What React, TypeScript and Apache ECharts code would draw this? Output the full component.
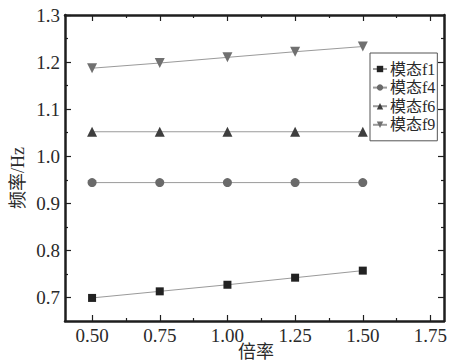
import React, { useEffect, useRef } from "react";
import * as echarts from "echarts";

const xValues = [0.5, 0.75, 1.0, 1.25, 1.5];
const f1 = [0.699, 0.713, 0.727, 0.742, 0.757];
const f4 = [0.944, 0.944, 0.944, 0.944, 0.944];
const f6 = [1.052, 1.052, 1.052, 1.052, 1.052];
const f9 = [1.187, 1.198, 1.21, 1.222, 1.233];
const seriesNames = ["模态f1", "模态f4", "模态f6", "模态f9"];
const xMajorTicks = [0.5, 0.75, 1.0, 1.25, 1.5, 1.75];
const xMinorTicks = [0.625, 0.875, 1.125, 1.375, 1.625];
const yMajorTicks = [0.7, 0.8, 0.9, 1.0, 1.1, 1.2, 1.3];
const yMinorTicks = [0.75, 0.85, 0.95, 1.05, 1.15, 1.25];
const xAxisName = "倍率";
const yAxisName = "频率/Hz";

const FONT = "'Liberation Serif', 'Noto Sans CJK SC', serif";
const AXIS_COLOR = "#1e1e1e";

export default function App() {
  const ref = useRef<HTMLDivElement>(null);
  useEffect(() => {
    if (!ref.current) return;
    const chart = echarts.init(ref.current, undefined, { renderer: "svg" });
    const baseX = {
      type: "value" as const,
      min: 0.4,
      max: 1.8,
      splitLine: { show: false },
    };
    const baseY = {
      type: "value" as const,
      min: 0.65,
      max: 1.3,
      splitLine: { show: false },
    };
    const majorAxis = (pos: string, labels: boolean, ticks: number[], fmt: (v: number) => string) => ({
      position: pos,
      axisLine: { show: true, lineStyle: { color: AXIS_COLOR, width: 2.5 } },
      axisTick: { show: true, inside: true, length: 6, customValues: ticks, lineStyle: { color: AXIS_COLOR, width: 1.2 } },
      axisLabel: labels
        ? { show: true, customValues: ticks, formatter: fmt, fontFamily: FONT, fontSize: 19, color: "#2a2a2a", margin: 5 }
        : { show: false },
    });
    const minorAxis = (pos: string, ticks: number[]) => ({
      position: pos,
      axisLine: { show: false },
      axisTick: { show: true, inside: true, length: 3, customValues: ticks, lineStyle: { color: AXIS_COLOR, width: 1.2 } },
      axisLabel: { show: false },
    });
    const fx = (v: number) => v.toFixed(2);
    const fy = (v: number) => v.toFixed(1);
    const mk = (name: string, data: number[], symbol: string, color: string, size: number, rotate = 0) => ({
      name,
      type: "line" as const,
      data: xValues.map((x, i) => [x, data[i]]),
      xAxisIndex: 0,
      yAxisIndex: 0,
      symbol,
      symbolSize: size,
      symbolRotate: rotate,
      showAllSymbol: true,
      lineStyle: { color: "#9a9a9a", width: 1 },
      itemStyle: { color },
    });
    chart.setOption({
      animation: false,
      grid: { left: 65, top: 15, right: 6, bottom: 42, outerBoundsMode: "none", containLabel: false },
      xAxis: [
        { ...baseX, ...majorAxis("bottom", true, xMajorTicks, fx) },
        { ...baseX, ...majorAxis("top", false, xMajorTicks, fx) },
        { ...baseX, ...minorAxis("bottom", xMinorTicks) },
        { ...baseX, ...minorAxis("top", xMinorTicks) },
      ],
      yAxis: [
        { ...baseY, ...majorAxis("left", true, yMajorTicks, fy) },
        { ...baseY, ...majorAxis("right", false, yMajorTicks, fy) },
        { ...baseY, ...minorAxis("left", yMinorTicks) },
        { ...baseY, ...minorAxis("right", yMinorTicks) },
      ],
      legend: {
        data: seriesNames,
        orient: "vertical",
        left: 370,
        top: 53,
        padding: [8, 2, 8, 2],
        itemWidth: 14,
        itemHeight: 8,
        itemGap: 2.6,
        borderColor: "#555",
        borderWidth: 1,
        textStyle: { fontFamily: FONT, fontSize: 16, color: "#2a2a2a", lineHeight: 16, padding: [0, 0, 0, -2] },
      },
      graphic: [
        {
          type: "text",
          x: 18,
          y: 178,
          rotation: Math.PI / 2,
          style: {
            text: yAxisName,
            fontFamily: FONT,
            fontSize: 18,
            fill: "#2a2a2a",
            align: "center",
            verticalAlign: "middle",
          },
        },
        {
          type: "text",
          x: 256,
          y: 352,
          style: {
            text: xAxisName,
            fontFamily: FONT,
            fontSize: 18,
            fill: "#2a2a2a",
            align: "center",
            verticalAlign: "middle",
          },
        },
      ],
      series: [
        mk(seriesNames[0], f1, "rect", "#222222", 8),
        mk(seriesNames[1], f4, "circle", "#6a6a6a", 9),
        mk(seriesNames[2], f6, "triangle", "#3e3e3e", 10),
        mk(seriesNames[3], f9, "triangle", "#707070", 10, 180),
      ],
    });
    return () => chart.dispose();
  }, []);
  return <div ref={ref} style={{ position: "absolute", left: 0, top: 0, width: 450, height: 363 }} />;
}
